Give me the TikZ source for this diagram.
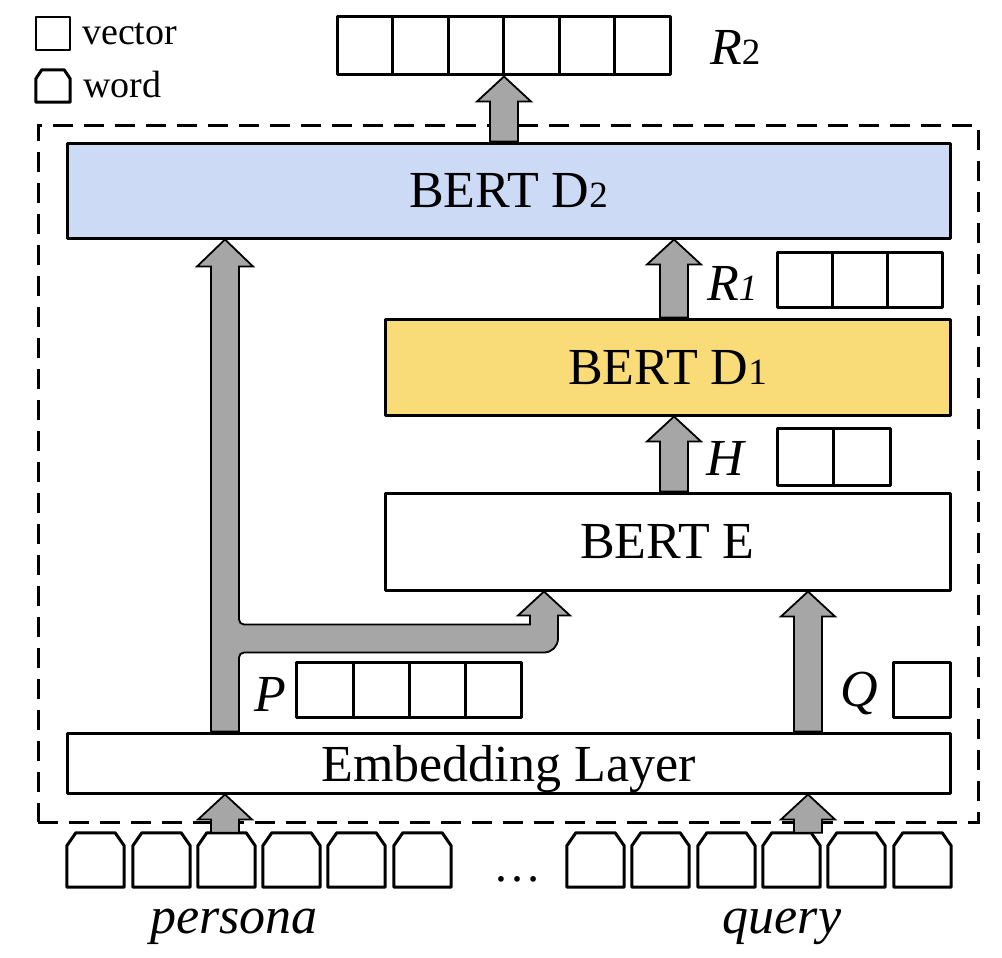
\documentclass[tikz,border=0pt]{standalone}
\usepackage{fontspec}
\setmainfont{Liberation Serif}
\usetikzlibrary{calc}
\definecolor{dblue}{HTML}{CCDAF5}
\definecolor{dyellow}{HTML}{F9DB78}
\definecolor{agray}{HTML}{A6A6A6}
\newcommand\sm[1]{{\fontsize{37}{40}\selectfont #1}}
\tikzset{
  box/.style={draw, line width=3pt, inner sep=0pt, text depth=0pt, font=\fontsize{52}{60}\selectfont, line join=round},
  cell/.style={draw, line width=3pt, minimum width=55.5pt, minimum height=56pt, inner sep=0pt, line join=round},
  wordnode/.style={minimum width=57pt, minimum height=54pt, inner sep=0pt},
  wline/.style={line width=3pt, line join=round},
  blk/.style={fill=agray, draw=black, line width=1.8pt, line join=miter},
  lbl/.style={font=\fontsize{52}{60}\selectfont\itshape, inner sep=0pt, anchor=base west},
  legendtxt/.style={font=\fontsize{38}{44}\selectfont, inner sep=0pt, anchor=base west},
  frame/.style={draw, line width=3pt, dash pattern=on 20pt off 11pt, inner sep=0pt},
}
\newcommand\wordshape[3]{\draw[wline] (#1.south west) -- ($(#1.north west)+(0,#3)$) -- ($(#1.north west)+(#2,0)$) -- ($(#1.north east)+(-#2,0)$) -- ($(#1.north east)+(0,#3)$) -- (#1.south east) -- cycle;}
\newcommand\blkarrow[2]{\draw[blk] let \p1=(#1), \p2=(#2) in (\x1-14pt,\y1) -- (\x1-14pt,\y2-25pt) -- (\x1-27pt,\y2-25pt) -- (\x1,\y2) -- (\x1+27pt,\y2-25pt) -- (\x1+14pt,\y2-25pt) -- (\x1+14pt,\y1) -- cycle;}
\begin{document}
\begin{tikzpicture}[x=1pt,y=-1pt]
\useasboundingbox (0,0) rectangle (1002,958);
% legend
\node[cell, line width=2.5pt, minimum width=34pt, minimum height=33pt] (lgv) at (53,33.5) {};
\node[legendtxt] (lgvt) at (82,45) {vector};
\node[wordnode, minimum width=34pt, minimum height=32pt] (lgw) at (53,86) {};
\wordshape{lgw}{6}{9}
\node[legendtxt] (lgwt) at (83,97) {word};
% frame
\node[frame, minimum width=940pt, minimum height=697pt] (fr) at (508,473.5) {};
% main boxes
\node[box, fill=dblue, minimum width=883pt, minimum height=95pt] (d2) at (508.5,190.5) {BERT D\sm{2}};
\node[box, fill=dyellow, minimum width=565pt, minimum height=96pt] (d1) at (667.5,367) {BERT D\sm{1}};
\node[box, fill=white, minimum width=565pt, minimum height=97pt] (e) at (667.5,541.5) {BERT E};
\node[box, fill=white, minimum width=883pt, minimum height=60pt] (emb) at (508.5,763) {Embedding Layer};
% R2 vector
\foreach \i in {0,...,5} {\node[cell, minimum height=58pt] (r2\i) at (337+27.75+55.5*\i,46) {};}
\node[lbl] (r2l) at (710,65) {R\sm{\upshape 2}};
% R1 vector
\foreach \i in {0,1,2} {\node[cell, minimum width=55pt, minimum height=55pt] (r1\i) at (804.5+55*\i,279.5) {};}
\node[lbl] (r1l) at (707,300) {R\sm{1}};
% H vector
\foreach \i in {0,1} {\node[cell, minimum width=56.5pt, minimum height=57pt] (h\i) at (805.25+56.5*\i,456.5) {};}
\node[lbl] (hl) at (706,475) {H};
% P vector
\foreach \i in {0,...,3} {\node[cell, minimum width=56.25pt, minimum height=55pt] (p\i) at (325.1+56.25*\i,689.5) {};}
\node[lbl] (pl) at (254,711) {P};
% Q vector
\node[cell, minimum width=57pt, minimum height=55pt] (q0) at (921.5,689.5) {};
\node[lbl] (ql) at (840,706) {Q};
% words
\foreach \i/\xx in {1/67,2/133,3/198,4/263,5/328,6/394} {\node[wordnode] (pw\i) at (\xx+28.5,860) {}; \wordshape{pw\i}{9}{13}}
\foreach \i/\xx in {1/567,2/632,3/698,4/763,5/828,6/894} {\node[wordnode] (qw\i) at (\xx+28.5,860) {}; \wordshape{qw\i}{9}{13}}
\node[font=\fontsize{48}{56}\selectfont, inner sep=0pt, anchor=base] (dots) at (517,881) {…};
\node[lbl, anchor=base] (persona) at (234,933) {persona};
\node[lbl, anchor=base] (query) at (782,933) {query};
% column coordinates
\coordinate (pcol) at (225,0);
\coordinate (qcol) at (808,0);
\coordinate (ecol) at (674,0);
\coordinate (rcol) at (504,0);
\coordinate (bcol) at (544,0);
% arrows
\blkarrow{pcol |- pw3.north}{pcol |- emb.south}
\blkarrow{qcol |- qw4.north}{qcol |- emb.south}
\blkarrow{qcol |- emb.north}{qcol |- e.south}
\blkarrow{ecol |- e.north}{ecol |- d1.south}
\blkarrow{ecol |- d1.north}{ecol |- d2.south}
\blkarrow{rcol |- d2.north}{rcol |- r23.south}
\draw[blk] let \p1=(pcol |- emb.north), \p2=(pcol |- d2.south), \p3=(bcol |- e.south) in
  (\x1-14pt,\y1) -- (\x1-14pt,\y2-27pt) -- (\x1-28pt,\y2-27pt) -- (\x1,\y2) -- (\x1+28pt,\y2-27pt) -- (\x1+14pt,\y2-27pt)
  -- (\x1+14pt,\y3-28pt) arc[start angle=180,end angle=270,radius=5pt]
  -- (\x3-14pt,\y3-33pt) -- (\x3-14pt,\y3-24pt) -- (\x3-26pt,\y3-24pt) -- (\x3,\y3) -- (\x3+26pt,\y3-24pt) -- (\x3+14pt,\y3-24pt)
  -- (\x3+14pt,\y3-47pt) arc[start angle=0,end angle=-90,radius=14pt]
  -- (\x1+19pt,\y3-61pt) arc[start angle=90,end angle=180,radius=5pt]
  -- (\x1+14pt,\y1) -- cycle;
\end{tikzpicture}
\end{document}
